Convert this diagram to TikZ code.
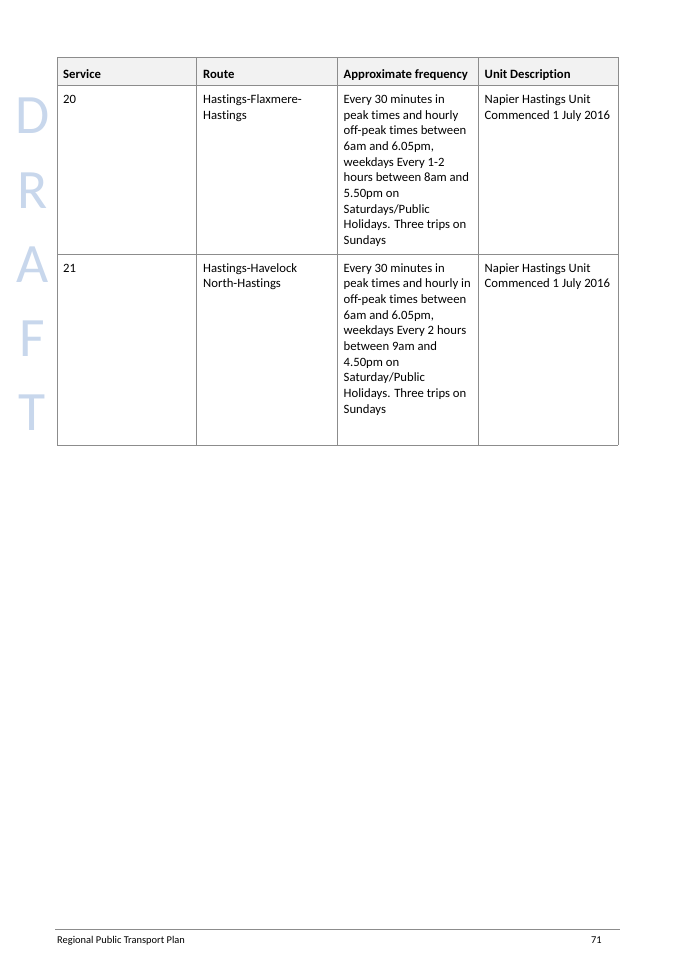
\documentclass[tikz,border=0pt]{standalone}
\usepackage{fontspec}
\setmainfont{Carlito}[Ligatures={NoCommon}]
\definecolor{gridgray}{HTML}{8C8C8C}
\definecolor{headgray}{HTML}{F2F2F2}
\definecolor{draftblue}{HTML}{C8D7EC}
\begin{document}
\begin{tikzpicture}[x=0.882pt, y=-0.882pt,
    cell/.style={anchor=north west, inner sep=0pt, align=left, font=\fontsize{11.2}{13.8}\selectfont},
    head/.style={cell, font=\fontsize{11.2}{13.8}\selectfont\bfseries},
    grid line/.style={draw=gridgray, line width=0.8pt},
    wm/.style={text=draftblue, inner sep=0pt, font=\fontsize{49}{49}\selectfont},
    foot/.style={anchor=base west, inner sep=0pt, font=\fontsize{9.2}{11}\selectfont}]
  \useasboundingbox (0,0) rectangle (675,962);

  % watermark down the left margin
  \foreach \l [count=\i] in {D,R,A,F,T}
    \node[wm] (draft\i) at (32.5, {116+74.25*(\i-1)}) {\l};

  % table frame
  \fill[headgray] (57,57) rectangle (618,85);
  \foreach \y in {57,85,254,445}
    \draw[grid line] (57,\y) -- (618,\y);
  \foreach \x in {57,196.5,337,478,618}
    \draw[grid line] (\x,57) -- (\x,445);

  % header
  \node[head] (service) at (63,67) {\strut Service};
  \node[head] (route) at (203,67) {\strut Route};
  \node[head] (freq) at (343.5,67) {\strut Approximate frequency};
  \node[head] (unit) at (484.5,67) {\strut Unit Description};

  % service 20
  \node[cell] (svc20) at (63,92.5) {\strut 20};
  \node[cell] (route20) at (203,92.5) {\strut Hastings-Flaxmere-\\Hastings};
  \node[cell] (freq20) at (343.5,92.5) {\strut Every 30 minutes in\\peak times and hourly\\off-peak times between\\6am and 6.05pm,\\weekdays Every 1-2\\hours between 8am and\\5.50pm on\\Saturdays/Public\\Holidays. Three trips on\\Sundays};
  \node[cell] (unit20) at (484.5,92.5) {\strut Napier Hastings Unit\\Commenced 1 July 2016};

  % service 21
  \node[cell] (svc21) at (63,261) {\strut 21};
  \node[cell] (route21) at (203,261) {\strut Hastings-Havelock\\North-Hastings};
  \node[cell] (freq21) at (343.5,261) {\strut Every 30 minutes in\\peak times and hourly in\\off-peak times between\\6am and 6.05pm,\\weekdays Every 2 hours\\between 9am and\\4.50pm on\\Saturday/Public\\Holidays. Three trips on\\Sundays};
  \node[cell] (unit21) at (484.5,261) {\strut Napier Hastings Unit\\Commenced 1 July 2016};

  % footer
  \draw[draw=gridgray, line width=0.9pt] (55,929) -- (620,929);
  \node[foot] (plan) at (57,943) {Regional Public Transport Plan};
  \node[foot, anchor=base east] (page) at (602,943) {71};
\end{tikzpicture}
\end{document}
